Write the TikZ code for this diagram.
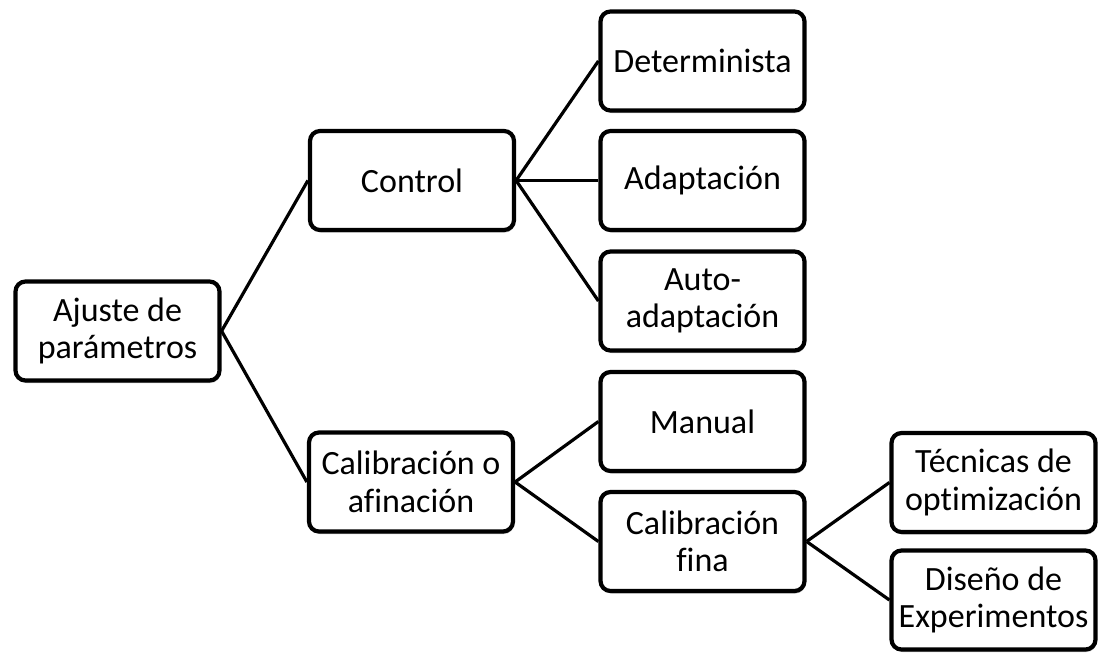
\documentclass[tikz,border=0pt]{standalone}
\usepackage{fontspec}
\setmainfont[Ligatures=NoCommon]{Carlito}
\usetikzlibrary{shadows}
\begin{document}
\begin{tikzpicture}[x=1pt,y=-1pt,
  box/.style={draw=black, line width=4.2pt, rounded corners=10pt, fill=white,
    minimum width=204pt, minimum height=99pt, inner sep=0pt, align=center,
    font=\fontsize{34}{37.5}\selectfont,
    drop shadow={shadow xshift=1pt, shadow yshift=-2.5pt, opacity=0.25, fill=black}},
  link/.style={draw=black, line width=3.2pt}]
\useasboundingbox (0,0) rectangle (1099,656);
\node[box] (aj) at (117.5,331) {Ajuste de\\parámetros};
\node[box] (ct) at (412,180.5) {Control};
\node[box] (ca) at (411,482) {Calibración o\\afinación};
\node[box] (de) at (702.5,61) {Determinista};
\node[box] (ad) at (702.5,180.5) {Adaptación};
\node[box] (au) at (702.5,301) {Auto-\\adaptación};
\node[box] (ma) at (702.5,421.5) {Manual};
\node[box] (cf) at (702.5,541.5) {Calibración\\fina};
\node[box] (te) at (993.5,482.5) {Técnicas de\\optimización};
\node[box] (di) at (993.5,600) {Diseño de\\Experimentos};
\draw[link] (aj.east) -- (ct.west);
\draw[link] (aj.east) -- (ca.west);
\draw[link] (ct.east) -- (de.west);
\draw[link] (ct.east) -- (ad.west);
\draw[link] (ct.east) -- (au.west);
\draw[link] (ca.east) -- (ma.west);
\draw[link] (ca.east) -- (cf.west);
\draw[link] (cf.east) -- (te.west);
\draw[link] (cf.east) -- (di.west);
\end{tikzpicture}
\end{document}
